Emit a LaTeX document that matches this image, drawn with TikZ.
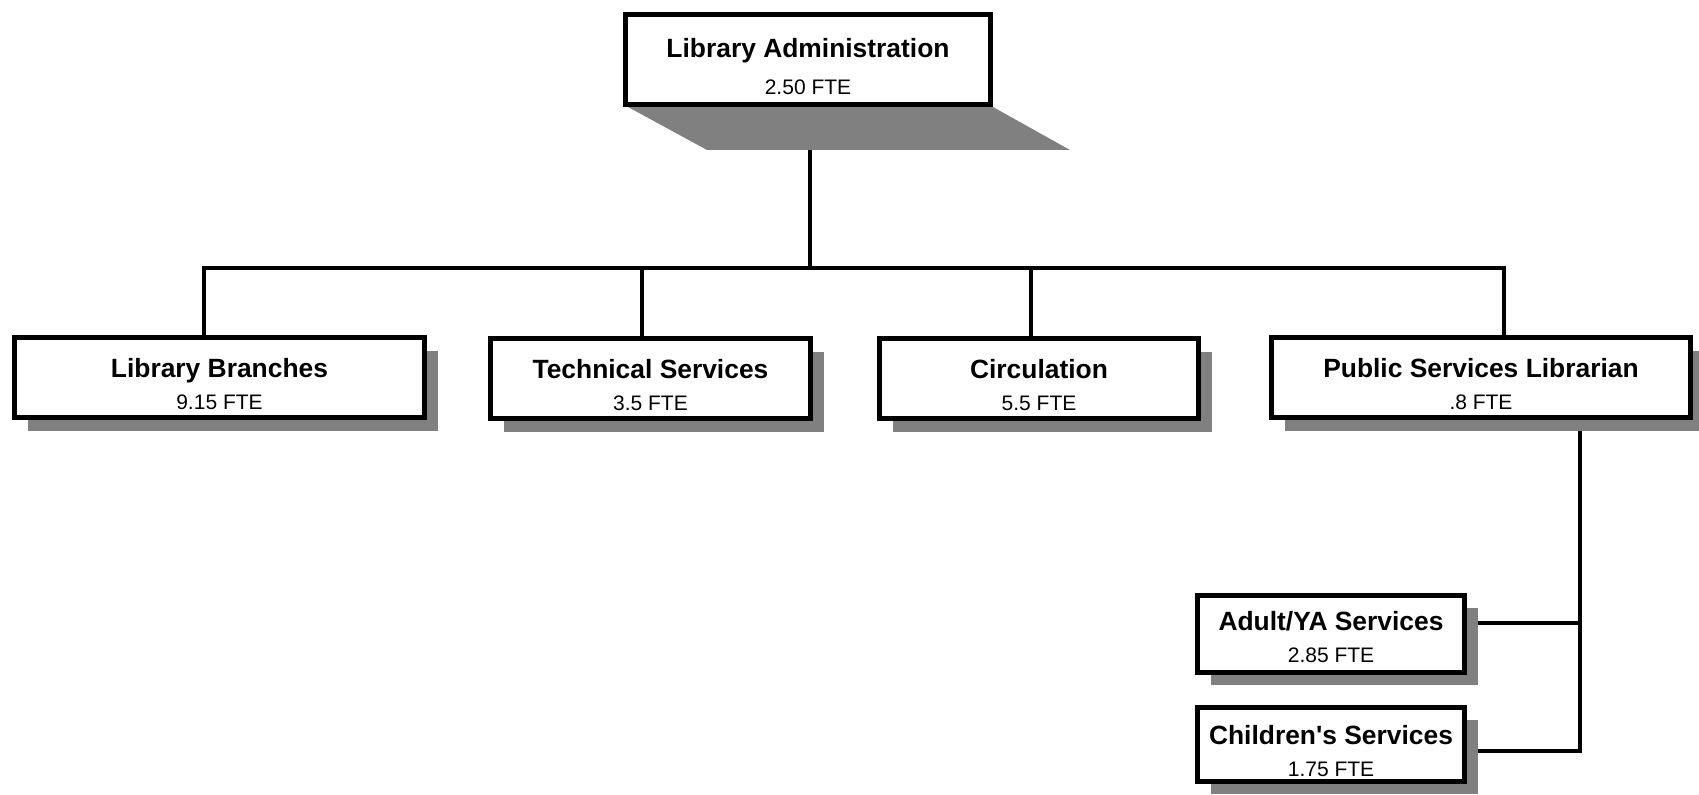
\documentclass[tikz,border=0pt]{standalone}
\usepackage{fontspec}
\setmainfont{Liberation Sans}
\usepackage{tikz}
\usetikzlibrary{shadows,positioning,calc}
\definecolor{shadowgray}{HTML}{808080}
\pgfdeclarelayer{bg}
\pgfsetlayers{bg,main}
% bold unit name, the strut pushes the two lines down a little
\newcommand{\unitname}[2][15.3pt]{\rule{0pt}{#1}{\fontsize{13.2}{16}\selectfont\bfseries #2}}

\begin{document}
\begin{tikzpicture}[x=0.5pt, y=-0.5pt,
    unitbox/.style={draw, line width=2.5pt, fill=white, inner sep=0pt, align=center,
        font=\fontsize{10.5}{16}\selectfont},
    shadowed/.style={unitbox, drop shadow={shadow xshift=6.5pt, shadow yshift=-6.5pt,
        fill=shadowgray, opacity=1}},
    link/.style={line width=1.6pt}]
    \useasboundingbox (0,0) rectangle (1699,795);

    % top of the chart
    \node[unitbox, minimum width=182.5pt, minimum height=45pt] (admin) at (808,59.5)
        {\unitname[16.7pt]{Library Administration}\\[2.7pt]2.50 FTE};

    % departments
    \node[shadowed, minimum width=205pt, minimum height=40pt] (branch) at (219.5,378)
        {\unitname{Library Branches}\\9.15 FTE};
    \node[shadowed, minimum width=160pt, minimum height=40pt] (tech) at (650.5,379)
        {\unitname{Technical Services}\\3.5 FTE};
    \node[shadowed, minimum width=159.5pt, minimum height=40pt] (circ) at (1039,379)
        {\unitname{Circulation}\\5.5 FTE};
    \node[shadowed, minimum width=209.5pt, minimum height=40pt] (public) at (1481,378)
        {\unitname{Public Services Librarian}\\.8 FTE};

    % under public services
    \node[shadowed, minimum width=133.5pt, minimum height=38.5pt] (adult) at (1331,634)
        {\unitname[12.9pt]{Adult/YA Services}\\2.85 FTE};
    \node[shadowed, minimum width=133.5pt, minimum height=37pt] (child) at (1331,744.5)
        {\unitname[16.1pt]{Children\textquotesingle s Services}\\1.75 FTE};

    \begin{pgfonlayer}{bg}
        \coordinate (tap admin) at (810,268);
        \coordinate (tap branch) at (204,268);
        \coordinate (tap tech) at (642,268);
        \coordinate (tap circ) at (1031,268);
        \coordinate (tap public) at (1504,268);
        \coordinate (tap adult) at (1580,623);
        \coordinate (tap child) at (1580,751);

        \draw[link] (admin.south -| tap admin) -- (tap admin);
        \draw[link] (branch.north -| tap branch) -- (tap branch) -- (tap public)
            -- (public.north -| tap public);
        \foreach \n in {tech,circ}
            \draw[link] (tap \n) -- (tap \n |- \n.north);
        \draw[link] (public.south -| tap child) -- (tap child) -- (tap child -| child.east);
        \draw[link] (tap adult) -- (tap adult -| adult.east);

        % slanted shadow of the top box
        \fill[shadowgray] ([xshift=2.5pt]admin.south west) -- (admin.south east) -- ++(77,43)
            -- ([shift={(84,43)}]admin.south west) -- cycle;
    \end{pgfonlayer}
\end{tikzpicture}
\end{document}
